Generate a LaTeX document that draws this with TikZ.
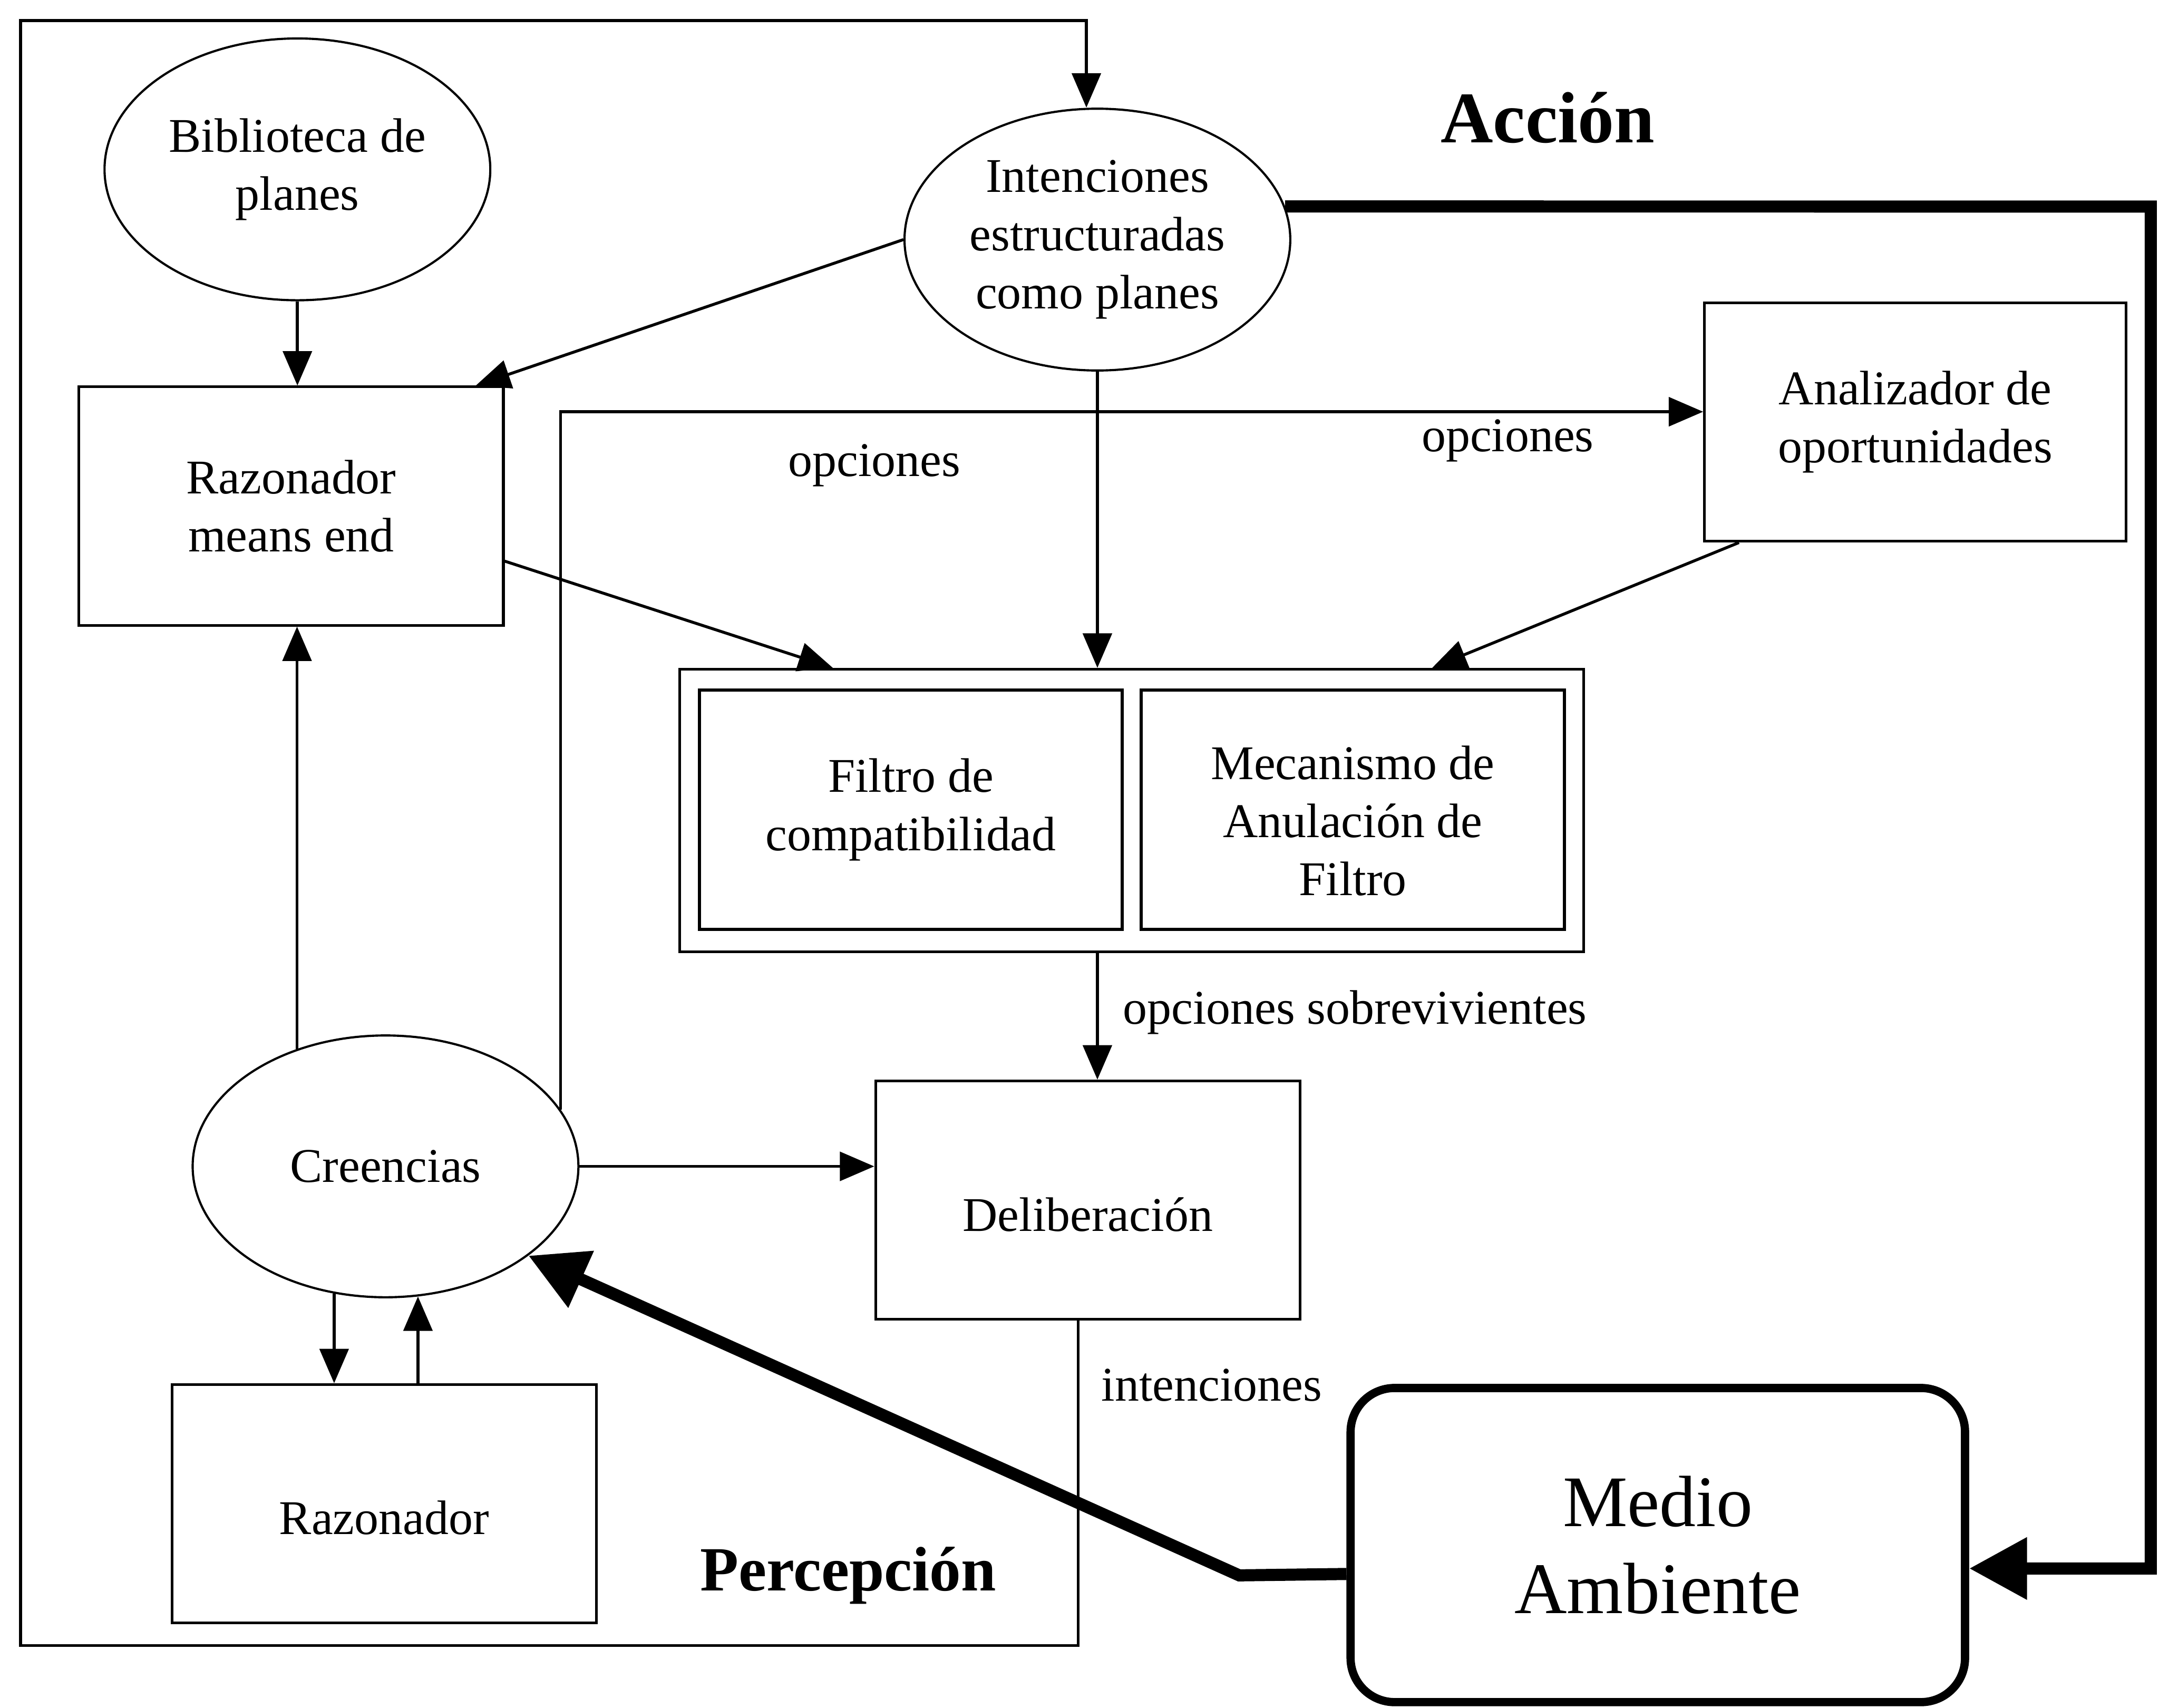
\documentclass[tikz,border=0pt]{standalone}
\usepackage{fontspec}
\setmainfont{Liberation Serif}
\usetikzlibrary{shapes.geometric,arrows.meta,calc}
\begin{document}
\begin{tikzpicture}[x=0.01cm,y=-0.01cm,
  every node/.style={font=\fontsize{10}{12}\selectfont, align=center, inner sep=0pt},
  oval/.style={ellipse, draw, line width=0.45pt, minimum width=2.8cm, minimum height=1.9cm},
  boxnode/.style={rectangle, draw, line width=0.55pt, minimum width=3.08cm, minimum height=1.73cm},
  filterbox/.style={rectangle, draw, line width=0.65pt, minimum width=3.07cm, minimum height=1.74cm},
  conn/.style={line width=0.6pt, -{Triangle[length=2.5mm,width=2.1mm]}},
  heavy/.style={line width=2.5pt, -{Triangle[length=4.2mm,width=4.3mm]}},
  bigtitle/.style={font=\fontsize{15}{18}\selectfont\bfseries, anchor=base},
  midtitle/.style={font=\fontsize{13}{15}\selectfont\bfseries, anchor=base}]
\useasboundingbox (0,0) rectangle (1568,1240);

% ovals
\node[oval] (bib) at (216,123) {Biblioteca de\\planes};
\node[oval] (int) at (797,174) {Intenciones\\estructuradas\\como planes};
\node[oval] (cre) at (280,847) {Creencias};

% boxes
\node[boxnode] (rme) at (211.5,367.5) {Razonador\\means end};
\node[boxnode, minimum width=3.06cm] (ana) at (1391,306.5) {Analizador de\\oportunidades};
\node[rectangle, draw, line width=0.55pt, minimum width=6.56cm, minimum height=2.05cm] (flt) at (822,588.5) {};
\node[filterbox] (fil) at (661.5,588) {Filtro de\\compatibilidad};
\node[filterbox] (mec) at (982.5,588) {};
\node (mect) at (982.5,596) {Mecanismo de\\Anulación de\\Filtro};
\node[boxnode] (del) at (790,871.5) {};
\node (delt) at (790,882) {Deliberación};
\node[boxnode] (raz) at (279,1092) {};
\node (razt) at (279,1102) {Razonador};
\node[rectangle, rounded corners=0.32cm, draw, line width=1.7pt,
      minimum width=4.46cm, minimum height=2.28cm,
      font=\fontsize{15}{18}\selectfont] (med) at (1204,1122) {Medio\\Ambiente};

% labels
\node (op1) at (635,338) {opciones};
\node (op2) at (1095,320) {opciones};
\node (opsob) at (984,735) {opciones sobrevivientes};
\node (intl) at (880,1006) {intenciones};
\node[bigtitle] (accion) at (1124,103.5) {Acción};
\node[midtitle] (percep) at (616,1155) {Percepción};

% perception frame, closing into the intentions oval
\coordinate (fbr) at (783,1195);
\coordinate (fbl) at (15,1195);
\coordinate (ftl) at (15,15);
\coordinate (ftr) at (789,15);
\draw[conn] (del.south -| fbr) -- (fbr) -- (fbl) -- (ftl) -- (ftr) -- (ftr |- int.north);

% thin connectors
\draw[conn] (bib.south) -- (bib.south |- rme.north);
\draw[conn] (int.west) -- ($(rme.north east)+(-21,0)$);
\draw[conn] ($(rme.east)+(0,40)$) -- ($(flt.north west)+(112,0)$);
\draw[conn] (int.south) -- (int.south |- flt.north);
\draw[conn] ($(ana.south west)+(26,0)$) -- ($(flt.north east)+(-111,0)$);
\draw[conn] (cre.18) |- ($(ana.west)+(0,-7.5)$);
\draw[conn] (int.south |- flt.south) -- (int.south |- del.north);
\draw[conn] (cre.east) -- (cre.east -| del.west);
\draw[conn] (cre.127) -- (cre.127 |- rme.south);
\draw[conn] (cre.248) -- (cre.248 |- raz.north);
\draw[conn] (cre.284 |- raz.north) -- (cre.284);

% action and perception loops through the environment
\coordinate (rc) at (1562,150);
\coordinate (bend) at (900,1144);
\draw[heavy] (int.10) -- (rc) |- ($(med.east)+(0,17)$);
\draw[heavy] ($(med.west)+(0,21)$) -- (bend) -- (cre.328);
\end{tikzpicture}
\end{document}
